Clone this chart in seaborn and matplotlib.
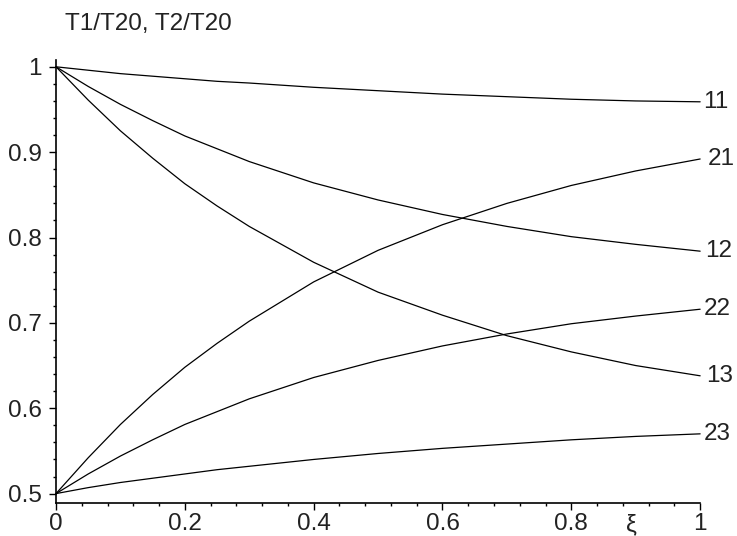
import numpy as np
import pandas as pd
import matplotlib as mpl
mpl.use('Agg')
import matplotlib.pyplot as plt
from matplotlib.ticker import MultipleLocator, FixedLocator
import seaborn as sns

# values
xi = [0.0, 0.05, 0.1, 0.15, 0.2, 0.25, 0.3, 0.4, 0.5, 0.6, 0.7, 0.8, 0.9, 1.0]
c11 = [1.000, 0.996, 0.992, 0.989, 0.986, 0.983, 0.981, 0.976, 0.972, 0.968, 0.965, 0.962, 0.960, 0.959]
c12 = [1.000, 0.977, 0.956, 0.937, 0.919, 0.904, 0.889, 0.864, 0.844, 0.827, 0.813, 0.801, 0.792, 0.784]
c13 = [1.000, 0.961, 0.925, 0.893, 0.863, 0.837, 0.813, 0.771, 0.736, 0.709, 0.685, 0.666, 0.650, 0.638]
c21 = [0.500, 0.542, 0.581, 0.616, 0.648, 0.676, 0.702, 0.748, 0.785, 0.815, 0.840, 0.861, 0.878, 0.892]
c22 = [0.500, 0.523, 0.544, 0.563, 0.581, 0.596, 0.611, 0.636, 0.656, 0.673, 0.687, 0.699, 0.708, 0.716]
c23 = [0.500, 0.507, 0.513, 0.518, 0.523, 0.528, 0.532, 0.540, 0.547, 0.553, 0.558, 0.563, 0.567, 0.570]
curve_names = ['11', '12', '13', '21', '22', '23']
y_ticks = [0.5, 0.6, 0.7, 0.8, 0.9, 1.0]
y_ticklabels = ['0.5', '0.6', '0.7', '0.8', '0.9', '1']
x_ticks = [0.0, 0.2, 0.4, 0.6, 0.8, 1.0]
x_ticklabels = ['0', '0.2', '0.4', '0.6', '0.8', '1']
title = 'T1/T20, T2/T20'
xlabel = 'ξ'

curves = [c11, c12, c13, c21, c22, c23]
df = pd.concat([pd.DataFrame({'xi': xi, 'value': c, 'curve': n})
                for n, c in zip(curve_names, curves)], ignore_index=True)

sns.set_theme(style='white')
plt.rcParams['font.family'] = ['Liberation Sans', 'DejaVu Sans']
fs = 17.5
tc = '#222222'

fig = plt.figure(figsize=(7.37, 5.36), dpi=100)
ax = fig.add_axes([0.076, 0.0616, 0.874, 0.8265])
sns.lineplot(data=df, x='xi', y='value', hue='curve', palette=['black'] * 6,
             linewidth=0.9, legend=False, ax=ax, clip_on=False)

ax.set_xlim(0, 1.0)
ax.set_ylim(0.489, 1.008)
for s in ['top', 'right']:
    ax.spines[s].set_visible(False)
for s in ['left', 'bottom']:
    ax.spines[s].set_color('black')
    ax.spines[s].set_linewidth(1.2)

ax.xaxis.set_major_locator(FixedLocator(x_ticks))
ax.set_xticklabels(x_ticklabels)
ax.yaxis.set_major_locator(FixedLocator(y_ticks))
ax.set_yticklabels(y_ticklabels)
ax.xaxis.set_minor_locator(MultipleLocator(0.04))
ax.yaxis.set_minor_locator(MultipleLocator(0.02))
ax.tick_params(which='major', direction='out', length=5, width=1, color='black',
               labelsize=fs, labelcolor=tc)
ax.tick_params(axis='x', which='major', pad=2)
ax.tick_params(axis='y', which='major', pad=5)
ax.tick_params(which='minor', direction='out', length=2.5, width=1, color='black')
ax.tick_params(axis='x', which='both', bottom=True)
ax.tick_params(axis='y', which='both', left=True)
ax.set_xlabel('')
ax.set_ylabel('')

# curve labels at the right end
label_dx = {'11': 0.005, '12': 0.007, '13': 0.010, '21': 0.012, '22': 0.005, '23': 0.005}
for n, c in zip(curve_names, curves):
    ax.text(xi[-1] + label_dx[n], c[-1], n, ha='left', va='center',
            fontsize=fs, color=tc, clip_on=False)

ax.text(0.893, -0.025, xlabel, transform=ax.get_xaxis_transform(), ha='center',
        va='top', fontsize=fs, color=tc)
fig.text(65 / 737, 1 - 13 / 536, title, ha='left', va='top', fontsize=fs,
         color=tc)

plt.savefig('out.png', dpi=100, facecolor='white')
plt.close()
